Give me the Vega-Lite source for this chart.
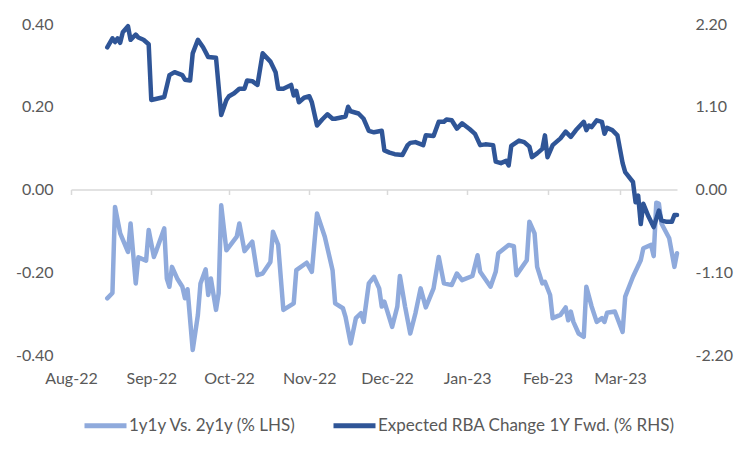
{
  "$schema": "https://vega.github.io/schema/vega-lite/v6.json",
  "width": 606,
  "height": 331,
  "autosize": {"type": "none"},
  "padding": {"left": 71, "top": 24, "right": 72, "bottom": 97},
  "background": "white",
  "config": {
    "view": {"stroke": null},
    "font": "Lato",
    "axis": {"grid": false, "labelFont": "Lato", "labelFontSize": 16, "labelColor": "#595959"}
  },
  "datasets": {
    "lhs": [
      {"date": "2022-08-15", "value": -0.263}, {"date": "2022-08-17", "value": -0.250}, {"date": "2022-08-18", "value": -0.042},
      {"date": "2022-08-20", "value": -0.106}, {"date": "2022-08-23", "value": -0.151}, {"date": "2022-08-24", "value": -0.082},
      {"date": "2022-08-26", "value": -0.227}, {"date": "2022-08-27", "value": -0.164}, {"date": "2022-08-30", "value": -0.172},
      {"date": "2022-08-31", "value": -0.098}, {"date": "2022-09-02", "value": -0.163}, {"date": "2022-09-03", "value": -0.147},
      {"date": "2022-09-06", "value": -0.094}, {"date": "2022-09-07", "value": -0.215}, {"date": "2022-09-08", "value": -0.235},
      {"date": "2022-09-09", "value": -0.187}, {"date": "2022-09-11", "value": -0.215}, {"date": "2022-09-13", "value": -0.235},
      {"date": "2022-09-14", "value": -0.263}, {"date": "2022-09-15", "value": -0.241}, {"date": "2022-09-17", "value": -0.388},
      {"date": "2022-09-19", "value": -0.303}, {"date": "2022-09-20", "value": -0.227}, {"date": "2022-09-22", "value": -0.193},
      {"date": "2022-09-23", "value": -0.255}, {"date": "2022-09-24", "value": -0.215}, {"date": "2022-09-26", "value": -0.291},
      {"date": "2022-09-27", "value": -0.251}, {"date": "2022-09-28", "value": -0.038}, {"date": "2022-09-30", "value": -0.147},
      {"date": "2022-10-04", "value": -0.114}, {"date": "2022-10-05", "value": -0.082}, {"date": "2022-10-07", "value": -0.149},
      {"date": "2022-10-10", "value": -0.126}, {"date": "2022-10-12", "value": -0.207}, {"date": "2022-10-14", "value": -0.203},
      {"date": "2022-10-17", "value": -0.175}, {"date": "2022-10-18", "value": -0.102}, {"date": "2022-10-20", "value": -0.134},
      {"date": "2022-10-22", "value": -0.291}, {"date": "2022-10-26", "value": -0.275}, {"date": "2022-10-27", "value": -0.195},
      {"date": "2022-10-31", "value": -0.177}, {"date": "2022-11-02", "value": -0.199}, {"date": "2022-11-04", "value": -0.058},
      {"date": "2022-11-07", "value": -0.114}, {"date": "2022-11-10", "value": -0.195}, {"date": "2022-11-11", "value": -0.275},
      {"date": "2022-11-14", "value": -0.287}, {"date": "2022-11-15", "value": -0.308}, {"date": "2022-11-17", "value": -0.372},
      {"date": "2022-11-19", "value": -0.311}, {"date": "2022-11-21", "value": -0.299}, {"date": "2022-11-22", "value": -0.320},
      {"date": "2022-11-24", "value": -0.227}, {"date": "2022-11-26", "value": -0.211}, {"date": "2022-11-28", "value": -0.239},
      {"date": "2022-11-29", "value": -0.283}, {"date": "2022-11-30", "value": -0.271}, {"date": "2022-12-03", "value": -0.332},
      {"date": "2022-12-05", "value": -0.283}, {"date": "2022-12-06", "value": -0.209}, {"date": "2022-12-08", "value": -0.283},
      {"date": "2022-12-10", "value": -0.348}, {"date": "2022-12-12", "value": -0.299}, {"date": "2022-12-14", "value": -0.239},
      {"date": "2022-12-16", "value": -0.285}, {"date": "2022-12-19", "value": -0.239}, {"date": "2022-12-21", "value": -0.163},
      {"date": "2022-12-23", "value": -0.227}, {"date": "2022-12-26", "value": -0.231}, {"date": "2022-12-28", "value": -0.203},
      {"date": "2022-12-30", "value": -0.219}, {"date": "2023-01-03", "value": -0.209}, {"date": "2023-01-05", "value": -0.159},
      {"date": "2023-01-06", "value": -0.199}, {"date": "2023-01-10", "value": -0.235}, {"date": "2023-01-12", "value": -0.199},
      {"date": "2023-01-13", "value": -0.154}, {"date": "2023-01-17", "value": -0.134}, {"date": "2023-01-19", "value": -0.137},
      {"date": "2023-01-20", "value": -0.207}, {"date": "2023-01-24", "value": -0.171}, {"date": "2023-01-25", "value": -0.078},
      {"date": "2023-01-27", "value": -0.106}, {"date": "2023-01-28", "value": -0.187}, {"date": "2023-01-30", "value": -0.227},
      {"date": "2023-01-31", "value": -0.223}, {"date": "2023-02-02", "value": -0.255}, {"date": "2023-02-03", "value": -0.311},
      {"date": "2023-02-06", "value": -0.303}, {"date": "2023-02-08", "value": -0.285}, {"date": "2023-02-09", "value": -0.316},
      {"date": "2023-02-10", "value": -0.295}, {"date": "2023-02-11", "value": -0.320}, {"date": "2023-02-13", "value": -0.348},
      {"date": "2023-02-15", "value": -0.356}, {"date": "2023-02-16", "value": -0.235}, {"date": "2023-02-18", "value": -0.282},
      {"date": "2023-02-20", "value": -0.320}, {"date": "2023-02-22", "value": -0.311}, {"date": "2023-02-23", "value": -0.320},
      {"date": "2023-02-24", "value": -0.298}, {"date": "2023-02-27", "value": -0.295}, {"date": "2023-03-02", "value": -0.344},
      {"date": "2023-03-03", "value": -0.259}, {"date": "2023-03-06", "value": -0.211}, {"date": "2023-03-09", "value": -0.171},
      {"date": "2023-03-10", "value": -0.142}, {"date": "2023-03-13", "value": -0.134}, {"date": "2023-03-14", "value": -0.161},
      {"date": "2023-03-15", "value": -0.032}, {"date": "2023-03-16", "value": -0.034}, {"date": "2023-03-17", "value": -0.082},
      {"date": "2023-03-20", "value": -0.118}, {"date": "2023-03-22", "value": -0.187}, {"date": "2023-03-23", "value": -0.154}
    ],
    "rhs": [
      {"date": "2022-08-15", "value": 1.89}, {"date": "2022-08-17", "value": 2.01}, {"date": "2022-08-18", "value": 1.96},
      {"date": "2022-08-19", "value": 2.01}, {"date": "2022-08-20", "value": 1.95}, {"date": "2022-08-21", "value": 2.09},
      {"date": "2022-08-23", "value": 2.17}, {"date": "2022-08-24", "value": 1.99}, {"date": "2022-08-26", "value": 2.06},
      {"date": "2022-08-27", "value": 2.02}, {"date": "2022-08-29", "value": 1.99}, {"date": "2022-08-31", "value": 1.93},
      {"date": "2022-09-01", "value": 1.19}, {"date": "2022-09-06", "value": 1.23}, {"date": "2022-09-08", "value": 1.52},
      {"date": "2022-09-10", "value": 1.56}, {"date": "2022-09-13", "value": 1.52}, {"date": "2022-09-14", "value": 1.46},
      {"date": "2022-09-16", "value": 1.45}, {"date": "2022-09-17", "value": 1.81}, {"date": "2022-09-19", "value": 1.99},
      {"date": "2022-09-21", "value": 1.89}, {"date": "2022-09-23", "value": 1.76}, {"date": "2022-09-26", "value": 1.75},
      {"date": "2022-09-28", "value": 0.99}, {"date": "2022-09-30", "value": 1.19}, {"date": "2022-10-01", "value": 1.24},
      {"date": "2022-10-03", "value": 1.28}, {"date": "2022-10-05", "value": 1.34}, {"date": "2022-10-07", "value": 1.34},
      {"date": "2022-10-08", "value": 1.45}, {"date": "2022-10-10", "value": 1.44}, {"date": "2022-10-12", "value": 1.39},
      {"date": "2022-10-14", "value": 1.81}, {"date": "2022-10-17", "value": 1.70}, {"date": "2022-10-19", "value": 1.56},
      {"date": "2022-10-20", "value": 1.34}, {"date": "2022-10-22", "value": 1.34}, {"date": "2022-10-25", "value": 1.39},
      {"date": "2022-10-26", "value": 1.25}, {"date": "2022-10-27", "value": 1.31}, {"date": "2022-10-28", "value": 1.16},
      {"date": "2022-10-30", "value": 1.22}, {"date": "2022-11-01", "value": 1.24}, {"date": "2022-11-02", "value": 1.16},
      {"date": "2022-11-04", "value": 0.85}, {"date": "2022-11-06", "value": 0.93}, {"date": "2022-11-08", "value": 1.00},
      {"date": "2022-11-10", "value": 0.94}, {"date": "2022-11-11", "value": 0.94}, {"date": "2022-11-15", "value": 0.97},
      {"date": "2022-11-16", "value": 1.10}, {"date": "2022-11-17", "value": 1.04}, {"date": "2022-11-20", "value": 1.01},
      {"date": "2022-11-22", "value": 0.94}, {"date": "2022-11-24", "value": 0.78}, {"date": "2022-11-26", "value": 0.76},
      {"date": "2022-11-29", "value": 0.78}, {"date": "2022-11-30", "value": 0.52}, {"date": "2022-12-02", "value": 0.49},
      {"date": "2022-12-04", "value": 0.47}, {"date": "2022-12-07", "value": 0.46}, {"date": "2022-12-09", "value": 0.59},
      {"date": "2022-12-10", "value": 0.62}, {"date": "2022-12-12", "value": 0.63}, {"date": "2022-12-15", "value": 0.59},
      {"date": "2022-12-16", "value": 0.72}, {"date": "2022-12-19", "value": 0.71}, {"date": "2022-12-21", "value": 0.90},
      {"date": "2022-12-23", "value": 0.90}, {"date": "2022-12-24", "value": 0.93}, {"date": "2022-12-26", "value": 0.92},
      {"date": "2022-12-28", "value": 0.81}, {"date": "2022-12-30", "value": 0.88}, {"date": "2023-01-02", "value": 0.80},
      {"date": "2023-01-04", "value": 0.74}, {"date": "2023-01-06", "value": 0.59}, {"date": "2023-01-08", "value": 0.60},
      {"date": "2023-01-11", "value": 0.59}, {"date": "2023-01-12", "value": 0.37}, {"date": "2023-01-14", "value": 0.35},
      {"date": "2023-01-16", "value": 0.38}, {"date": "2023-01-17", "value": 0.32}, {"date": "2023-01-18", "value": 0.58},
      {"date": "2023-01-21", "value": 0.65}, {"date": "2023-01-23", "value": 0.63}, {"date": "2023-01-25", "value": 0.57},
      {"date": "2023-01-26", "value": 0.43}, {"date": "2023-01-28", "value": 0.48}, {"date": "2023-01-30", "value": 0.54},
      {"date": "2023-01-31", "value": 0.72}, {"date": "2023-02-01", "value": 0.43}, {"date": "2023-02-03", "value": 0.59},
      {"date": "2023-02-06", "value": 0.68}, {"date": "2023-02-08", "value": 0.77}, {"date": "2023-02-10", "value": 0.70},
      {"date": "2023-02-12", "value": 0.79}, {"date": "2023-02-15", "value": 0.90}, {"date": "2023-02-16", "value": 0.79},
      {"date": "2023-02-17", "value": 0.85}, {"date": "2023-02-18", "value": 0.83}, {"date": "2023-02-20", "value": 0.92},
      {"date": "2023-02-22", "value": 0.90}, {"date": "2023-02-23", "value": 0.74}, {"date": "2023-02-24", "value": 0.82},
      {"date": "2023-02-26", "value": 0.79}, {"date": "2023-02-28", "value": 0.72}, {"date": "2023-03-02", "value": 0.35},
      {"date": "2023-03-03", "value": 0.23}, {"date": "2023-03-06", "value": 0.10}, {"date": "2023-03-07", "value": -0.17},
      {"date": "2023-03-08", "value": -0.08}, {"date": "2023-03-09", "value": -0.46}, {"date": "2023-03-10", "value": -0.19},
      {"date": "2023-03-12", "value": -0.36}, {"date": "2023-03-14", "value": -0.50}, {"date": "2023-03-16", "value": -0.28},
      {"date": "2023-03-17", "value": -0.41}, {"date": "2023-03-19", "value": -0.43}, {"date": "2023-03-21", "value": -0.43},
      {"date": "2023-03-22", "value": -0.34}, {"date": "2023-03-23", "value": -0.34}
    ]
  },
  "layer": [
    {
      "data": {"name": "lhs"},
      "mark": {"type": "line", "strokeWidth": 4.5, "strokeJoin": "round", "strokeCap": "round"},
      "encoding": {
        "x": {
          "field": "date", "type": "temporal",
          "scale": {"type": "utc", "domain": [{"year": 2022, "month": 8, "date": 1, "utc": true}, {"year": 2023, "month": 3, "date": 23, "utc": true}]},
          "axis": {
            "title": null,
            "values": [
              {"year": 2022, "month": 8, "date": 1, "utc": true}, {"year": 2022, "month": 9, "date": 1, "utc": true},
              {"year": 2022, "month": 10, "date": 1, "utc": true}, {"year": 2022, "month": 11, "date": 1, "utc": true},
              {"year": 2022, "month": 12, "date": 1, "utc": true}, {"year": 2023, "month": 1, "date": 1, "utc": true},
              {"year": 2023, "month": 2, "date": 1, "utc": true}, {"year": 2023, "month": 3, "date": 1, "utc": true}
            ],
            "labelExpr": "utcFormat(datum.value, '%b-%y')",
            "offset": -165.5,
            "domainColor": "#d9d9d9", "domainWidth": 1.5,
            "tickColor": "#d9d9d9", "tickWidth": 1.5, "tickSize": 5,
            "labelPadding": 176, "labelAngle": 0, "labelFlush": false, "labelOverlap": false
          }
        },
        "y": {
          "field": "value", "type": "quantitative",
          "scale": {"domain": [-0.4, 0.4], "nice": false, "zero": false},
          "axis": {
            "orient": "left", "title": null, "values": [-0.4, -0.2, 0, 0.2, 0.4],
            "labelExpr": "replace(format(datum.value, '.2f'), '\u2212', '-')",
            "domain": false, "ticks": false, "labelPadding": 18
          }
        },
        "color": {
          "datum": "1y1y Vs. 2y1y (% LHS)", "type": "nominal",
          "scale": {"domain": ["1y1y Vs. 2y1y (% LHS)", "Expected RBA Change 1Y Fwd. (% RHS)"], "range": ["#8FAADC", "#2F5597"]},
          "legend": {
            "orient": "none", "legendX": 11, "legendY": 378, "direction": "horizontal", "title": null,
            "symbolType": "stroke", "symbolSize": 1764, "symbolStrokeWidth": 5,
            "labelFont": "Lato", "labelFontSize": 17, "labelColor": "#595959", "labelLimit": 400,
            "labelOffset": 0, "columnPadding": 26, "padding": 0
          }
        }
      }
    },
    {
      "data": {"name": "rhs"},
      "mark": {"type": "line", "strokeWidth": 4.5, "strokeJoin": "round", "strokeCap": "round"},
      "encoding": {
        "x": {"field": "date", "type": "temporal"},
        "y": {
          "field": "value", "type": "quantitative",
          "scale": {"domain": [-2.2, 2.2], "nice": false, "zero": false},
          "axis": {
            "orient": "right", "title": null, "values": [-2.2, -1.1, 0, 1.1, 2.2],
            "labelExpr": "replace(format(datum.value, '.2f'), '\u2212', '-')",
            "domain": false, "ticks": false, "labelPadding": 18
          }
        },
        "color": {"datum": "Expected RBA Change 1Y Fwd. (% RHS)", "type": "nominal"}
      }
    }
  ],
  "resolve": {"scale": {"y": "independent"}}
}
